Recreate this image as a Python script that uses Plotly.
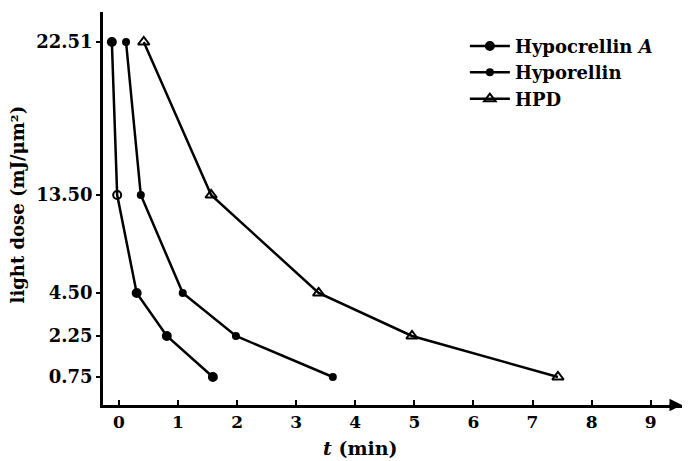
import numpy as np
import plotly.graph_objects as go

# ---- data ----
dose_ticks = [0.75, 2.25, 4.50, 13.50, 22.51]
dose_tick_labels = ["0.75", "2.25", "4.50", "13.50", "22.51"]
t_ticks = list(range(10))

hypocrellin_t = [-0.12, -0.03, 0.30, 0.81, 1.59]
hypocrellin_dose = [22.51, 13.50, 4.50, 2.25, 0.75]

hyporellin_t = [0.12, 0.37, 1.08, 1.98, 3.62]
hyporellin_dose = [22.51, 13.50, 4.50, 2.25, 0.75]

hpd_t = [0.42, 1.56, 3.38, 4.96, 7.43]
hpd_dose = [22.51, 13.50, 4.50, 2.25, 0.75]

# ---- the original's non-uniform dose axis (piecewise-linear scale) ----
SCALE_DOMAIN = [0, 0.75, 2.25, 4.50, 13.50, 22.51]
SCALE_RANGE = [0, 28, 69, 112, 210, 363]


def yscale(v):
    return np.interp(v, SCALE_DOMAIN, SCALE_RANGE)


FONT = "DejaVu Serif"
fig = go.Figure()

fig.add_trace(go.Scatter(
    x=hypocrellin_t, y=yscale(hypocrellin_dose), mode="lines+markers",
    name="Hypocrellin <i>A</i>",
    line=dict(color="black", width=2.5),
    marker=dict(symbol=["circle", "circle-open", "circle", "circle", "circle"],
                size=8, color="black", line=dict(color="black", width=2)),
))
fig.add_trace(go.Scatter(
    x=hyporellin_t, y=yscale(hyporellin_dose), mode="lines+markers",
    name="Hyporellin",
    line=dict(color="black", width=2.5),
    marker=dict(symbol="circle", size=8, color="black"),
))
fig.add_trace(go.Scatter(
    x=hpd_t, y=yscale(hpd_dose), mode="lines+markers",
    name="HPD",
    line=dict(color="black", width=2.5),
    marker=dict(symbol="triangle-up-open", size=10, color="black",
                line=dict(color="black", width=2)),
))

fig.update_layout(
    width=688, height=461,
    margin=dict(l=103, r=6, t=12, b=56),
    paper_bgcolor="white", plot_bgcolor="white",
    font=dict(family=FONT, color="black", size=18, weight="bold"),
    showlegend=True,
    legend=dict(x=0.625, y=0.96, xanchor="left", yanchor="top",
                bgcolor="rgba(0,0,0,0)", font=dict(size=18, family=FONT, weight="bold"),
                tracegroupgap=0, itemwidth=40),
    xaxis=dict(range=[-0.27, 9.53], tickvals=t_ticks, ticktext=[str(t) for t in t_ticks],
               showgrid=False, zeroline=False, showline=True, linecolor="black", linewidth=2.5,
               ticks="inside", ticklen=5, tickwidth=2, tickcolor="black",
               tickfont=dict(size=17, family=FONT)),
    yaxis=dict(range=[0, 393], tickvals=yscale(dose_ticks), ticktext=dose_tick_labels,
               showgrid=False, zeroline=False, showline=True, linecolor="black", linewidth=2.5,
               ticks="outside", ticklen=4, tickwidth=2, tickcolor="black",
               tickfont=dict(size=18, family=FONT)),
    annotations=[
        dict(text="<i>t</i> (min)", xref="paper", yref="paper", x=0.444, y=-0.11,
             showarrow=False, font=dict(size=19, family=FONT, weight="bold"),
             xanchor="center", yanchor="middle"),
        dict(text="light dose (mJ/μm²)", xref="paper", yref="paper", x=-0.147, y=0.51,
             showarrow=False, textangle=-90, font=dict(size=18, family=FONT, weight="bold"),
             xanchor="center", yanchor="middle"),
        dict(text="", xref="paper", yref="paper", x=1.0, y=0.0, ax=-14, ay=0,
             showarrow=True, arrowhead=2, arrowsize=1, arrowwidth=2.5, arrowcolor="black"),
    ],
)

fig.write_html("out.html")
